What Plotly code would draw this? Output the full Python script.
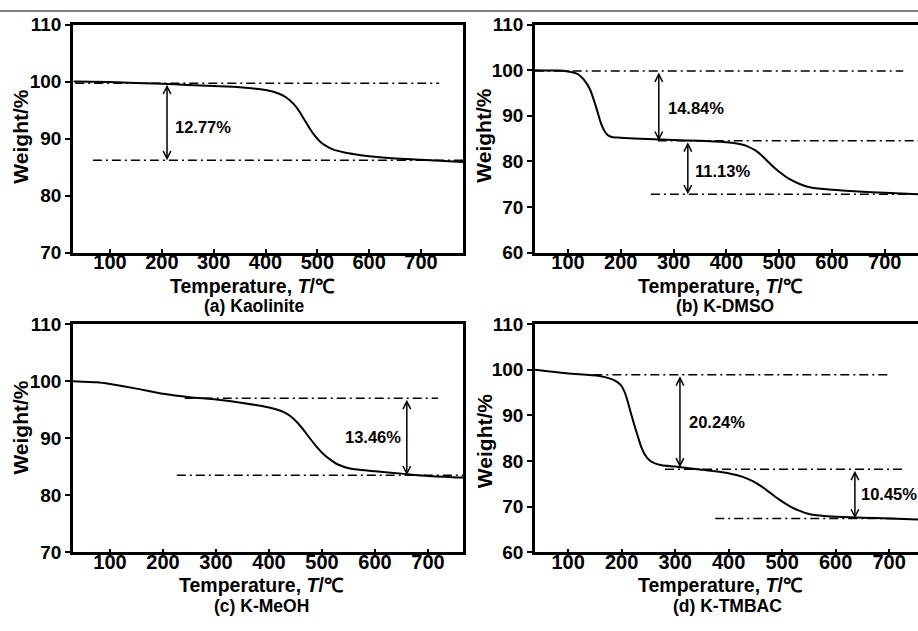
import plotly.graph_objects as go

# ---------------- data ----------------
kaol_T = [30, 100, 200, 250, 300, 350, 400, 425, 440, 455, 465, 475, 485, 495, 505, 515, 530, 550, 575, 600, 650, 700, 781]
kaol_W = [100, 99.9, 99.6, 99.4, 99.2, 99.0, 98.5, 97.9, 97.2, 96.0, 94.8, 93.3, 91.8, 90.5, 89.5, 88.8, 88.1, 87.6, 87.2, 86.9, 86.5, 86.3, 85.9]

dmso_T = [37, 81, 100, 110, 119, 130, 142, 153, 162, 170, 176, 185, 199, 250, 300, 350, 400, 425, 440, 455, 468, 480, 492, 505, 520, 540, 560, 600, 650, 700, 763]
dmso_W = [100, 99.9, 99.7, 99.5, 99.1, 97.9, 95.7, 92.0, 88.5, 86.5, 85.7, 85.3, 85.2, 84.9, 84.7, 84.5, 84.2, 83.8, 83.3, 82.4, 81.2, 79.8, 78.5, 77.3, 76.1, 75.0, 74.3, 73.8, 73.4, 73.1, 72.8]

meoh_T = [30, 75, 100, 150, 200, 250, 300, 350, 400, 425, 440, 452, 464, 477, 490, 502, 515, 530, 553, 600, 650, 700, 766]
meoh_W = [100, 99.8, 99.5, 98.7, 97.8, 97.2, 96.8, 96.2, 95.4, 94.7, 93.9, 92.9, 91.6, 90.0, 88.5, 87.3, 86.3, 85.4, 84.7, 84.2, 83.8, 83.4, 83.1]

tmbac_T = [38, 100, 156, 180, 192, 200, 206, 212, 218, 224, 230, 236, 243, 250, 260, 275, 300, 350, 401, 425, 445, 462, 478, 494, 510, 528, 554, 601, 650, 700, 754]
tmbac_W = [100, 99.2, 98.7, 98.0, 97.3, 96.4, 95.0, 92.8, 90.2, 87.8, 85.5, 83.3, 81.5, 80.4, 79.6, 79.1, 78.8, 78.1, 77.3, 76.6, 75.6, 74.4, 73.0, 71.6, 70.4, 69.3, 68.3, 67.8, 67.6, 67.4, 67.2]

# reference (dash-dot) lines: (T start, T end, weight level)
kaol_ref = [(33, 735, 99.7), (67, 781, 86.2)]
dmso_ref = [(37, 735, 99.8), (270, 763, 84.5), (257, 763, 72.8)]
meoh_ref = [(241, 719, 97.0), (226, 766, 83.5)]
tmbac_ref = [(147, 704, 98.9), (281, 730, 78.2), (375, 720, 67.4)]

# arrows: (T, top weight, bottom weight, label, label T, label weight, label anchor)
kaol_arr = [(210, 99.7, 86.2, "12.77%", 221, 92.0, "left")]
dmso_arr = [(272, 99.8, 84.5, "14.84%", 286, 91.7, "left"), (327, 84.5, 72.8, "11.13%", 336, 78.0, "left")]
meoh_arr = [(660, 97.0, 83.5, "13.46%", 652, 90.2, "right")]
tmbac_arr = [(309, 98.9, 78.6, "20.24%", 322, 88.6, "left"), (636, 78.2, 67.4, "10.45%", 643, 72.7, "left")]

panel_names = ["(a) Kaolinite", "(b) K-DMSO", "(c) K-MeOH", "(d) K-TMBAC"]
x_title = "Temperature, <i>T</i>/℃"
y_title = "Weight/%"
x_ticks = [100, 200, 300, 400, 500, 600, 700]

# ---------------- layout geometry ----------------
W, H = 918, 631
FONT = "Liberation Sans, Arial, Helvetica, sans-serif"


def px_x(p):
    return p / W


def px_y(p):
    return 1 - p / H


panels = [
    dict(T=kaol_T, Wt=kaol_W, ref=kaol_ref, arr=kaol_arr, xr=[28.6, 781], yr=[70, 110], yt=[70, 80, 90, 100, 110],
         xd=[px_x(73), px_x(463)], yd=[px_y(251), px_y(15)], mirror_y=True,
         xt=(253, 285), st=(254, 306), yt_pos=(21, 131)),
    dict(T=dmso_T, Wt=dmso_W, ref=dmso_ref, arr=dmso_arr, xr=[37.5, 763], yr=[60, 110], yt=[60, 70, 80, 90, 100, 110],
         xd=[px_x(535), 1.0], yd=[px_y(251), px_y(15)], mirror_y=False,
         xt=(720, 285), st=(725, 306), yt_pos=(484, 130)),
    dict(T=meoh_T, Wt=meoh_W, ref=meoh_ref, arr=meoh_arr, xr=[30.2, 766], yr=[70, 110], yt=[70, 80, 90, 100, 110],
         xd=[px_x(73), px_x(463)], yd=[px_y(561), px_y(325)], mirror_y=True,
         xt=(261, 595), st=(261, 617), yt_pos=(21, 432)),
    dict(T=tmbac_T, Wt=tmbac_W, ref=tmbac_ref, arr=tmbac_arr, xr=[38, 754], yr=[60, 110], yt=[60, 70, 80, 90, 100, 110],
         xd=[px_x(535), 1.0], yd=[px_y(561), px_y(325)], mirror_y=False,
         xt=(720, 595), st=(727, 617), yt_pos=(484, 446)),
]

fig = go.Figure()
annotations = []
shapes = []

for i, p in enumerate(panels):
    n = i + 1
    xa = "x" if n == 1 else f"x{n}"
    ya = "y" if n == 1 else f"y{n}"
    xkey = "xaxis" if n == 1 else f"xaxis{n}"
    ykey = "yaxis" if n == 1 else f"yaxis{n}"

    for (t0, t1, lev) in p["ref"]:
        fig.add_trace(go.Scatter(x=[t0, t1], y=[lev, lev], xaxis=xa, yaxis=ya, mode="lines",
                                 line=dict(color="black", width=1.5, dash="9px,4px,2px,4px"),
                                 showlegend=False, hoverinfo="skip"))
    fig.add_trace(go.Scatter(x=p["T"], y=p["Wt"], xaxis=xa, yaxis=ya, mode="lines",
                             line=dict(color="black", width=2, shape="spline", smoothing=0.5),
                             showlegend=False))

    fig.layout[xkey] = dict(domain=p["xd"], range=p["xr"], anchor=ya, tickvals=x_ticks,
                            ticks="inside", ticklen=4, tickwidth=1.5, tickcolor="black",
                            showline=True, linecolor="black", linewidth=2.5, mirror=True,
                            showgrid=False, zeroline=False, ticklabelstandoff=-10,
                            tickfont=dict(size=20, family=FONT, color="black", weight="bold"))
    fig.layout[ykey] = dict(domain=p["yd"], range=p["yr"], anchor=xa, tickvals=p["yt"],
                            ticks="outside", ticklen=5, tickwidth=1.5, tickcolor="black",
                            showline=True, linecolor="black", linewidth=2.5,
                            mirror=p["mirror_y"], showgrid=False, zeroline=False,
                            tickfont=dict(size=19, family=FONT, color="black", weight="bold"))

    for (t, top, bot, lab, lt, lw, anc) in p["arr"]:
        annotations.append(dict(x=t, y=bot, ax=t, ay=top, xref=xa, yref=ya, axref=xa, ayref=ya,
                                showarrow=True, arrowhead=5, startarrowhead=5, arrowside="end+start",
                                arrowsize=1.0, arrowwidth=1.5, arrowcolor="black", text="",
                                standoff=0, startstandoff=0))
        annotations.append(dict(x=lt, y=lw, xref=xa, yref=ya, text=lab, showarrow=False,
                                xanchor=anc, yanchor="middle",
                                font=dict(size=16.5, family=FONT, color="black", weight="bold")))

    annotations.append(dict(x=px_x(p["xt"][0]), y=px_y(p["xt"][1]), xref="paper", yref="paper",
                            text=x_title, showarrow=False, xanchor="center", yanchor="middle",
                            font=dict(size=19.5, family=FONT, color="black", weight="bold")))
    annotations.append(dict(x=px_x(p["st"][0]), y=px_y(p["st"][1]), xref="paper", yref="paper",
                            text=panel_names[i], showarrow=False, xanchor="center", yanchor="middle",
                            font=dict(size=17.5, family=FONT, color="black", weight="bold")))
    annotations.append(dict(x=px_x(p["yt_pos"][0]), y=px_y(p["yt_pos"][1]), xref="paper", yref="paper",
                            text=y_title, showarrow=False, xanchor="center", yanchor="middle", textangle=-90,
                            font=dict(size=21, family=FONT, color="black", weight="bold")))

shapes.append(dict(type="line", xref="paper", yref="paper", x0=0, x1=1, y0=px_y(1), y1=px_y(1),
                   line=dict(color="#555555", width=1.5)))

fig.update_layout(width=W, height=H, margin=dict(l=0, r=0, t=0, b=0),
                  paper_bgcolor="white", plot_bgcolor="white",
                  annotations=annotations, shapes=shapes, showlegend=False,
                  font=dict(family=FONT, color="black"))

post = (
    "document.documentElement.style.margin='0';document.documentElement.style.padding='0';"
    "document.documentElement.style.overflow='hidden';"
    "document.body.style.margin='0';document.body.style.padding='0';document.body.style.overflow='hidden';"
    "var g=document.getElementsByClassName('plotly-graph-div')[0];"
    "g.style.position='fixed';g.style.left='0px';g.style.top='0px';"
)

fig.write_html("out.html", config={"displayModeBar": False}, post_script=post)
